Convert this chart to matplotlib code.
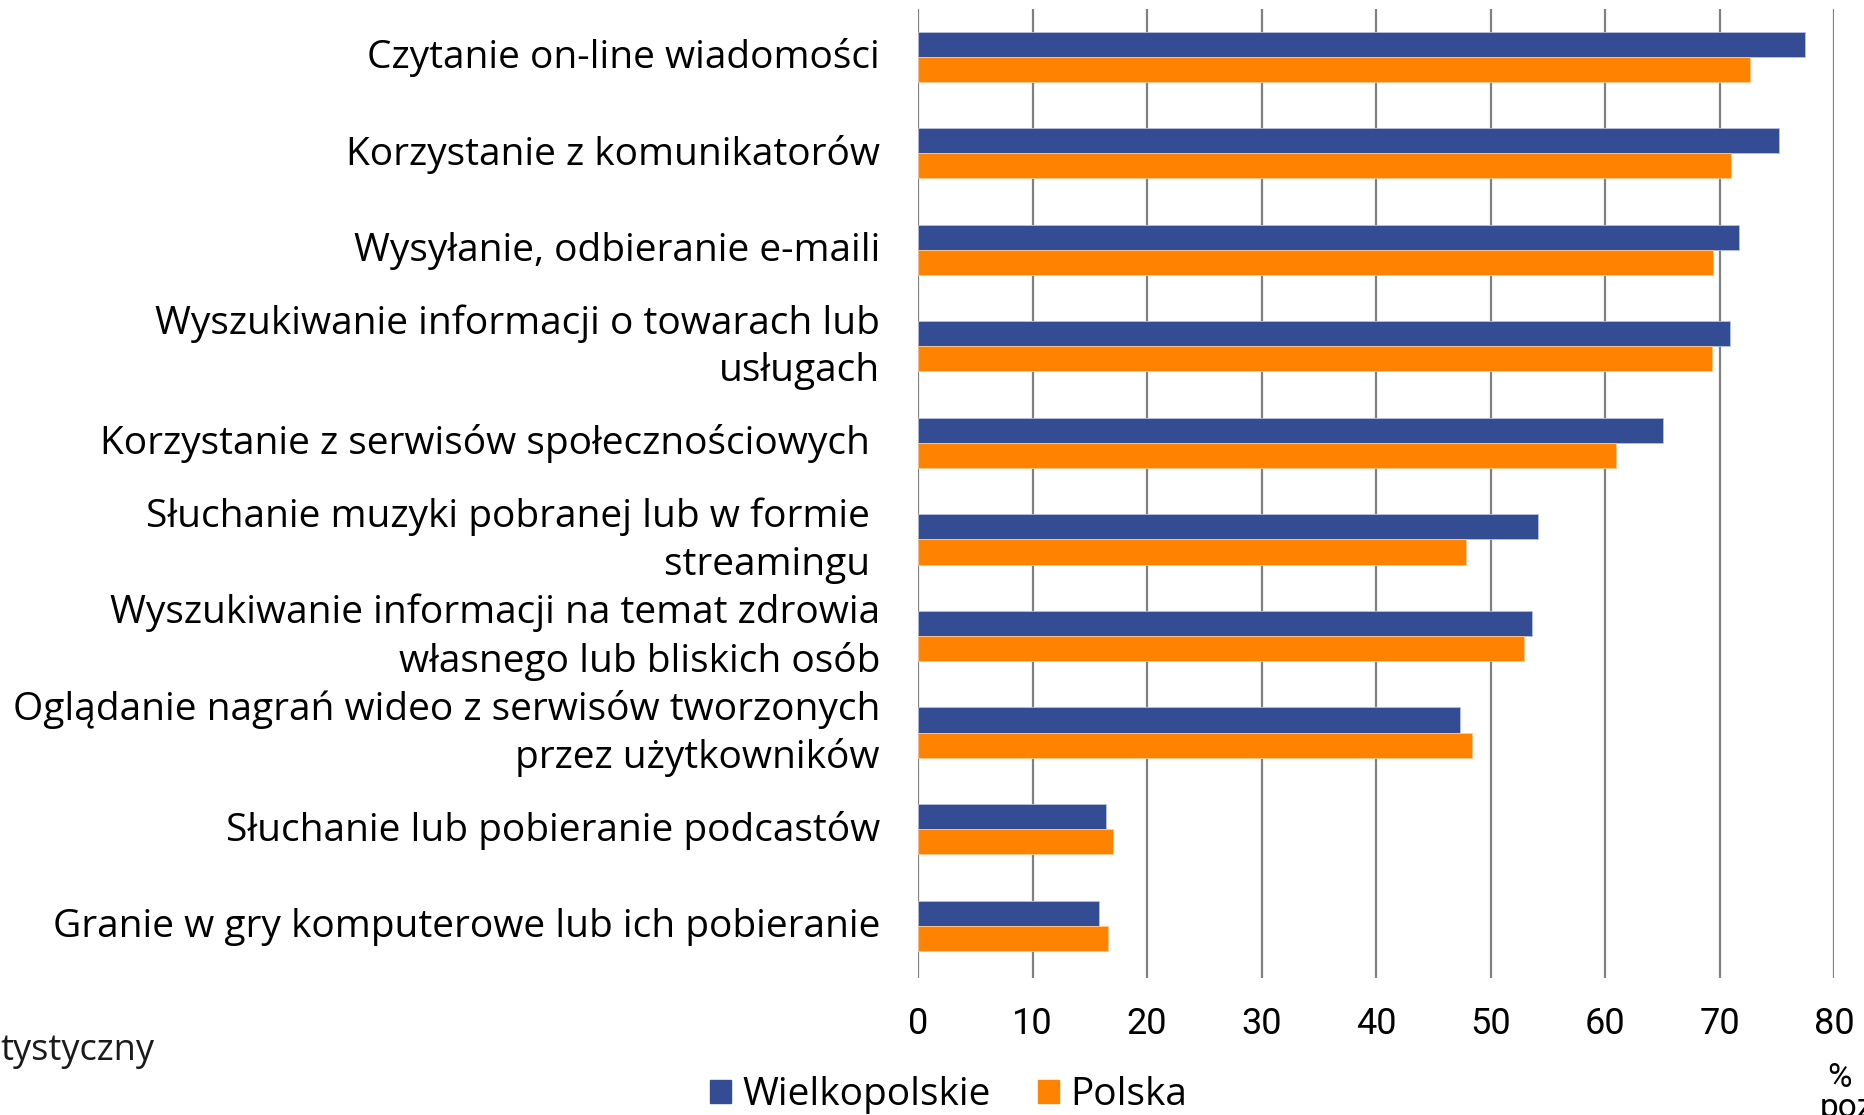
import matplotlib
matplotlib.use("Agg")
import matplotlib.pyplot as plt
from matplotlib.patches import Patch
from matplotlib.transforms import ScaledTranslation
import numpy as np

categories = [
    "Czytanie on-line wiadomości",
    "Korzystanie z komunikatorów",
    "Wysyłanie, odbieranie e-maili",
    "Wyszukiwanie informacji o towarach lub\nusługach",
    "Korzystanie z serwisów społecznościowych ",
    "Słuchanie muzyki pobranej lub w formie \nstreamingu ",
    "Wyszukiwanie informacji na temat zdrowia\nwłasnego lub bliskich osób",
    "Oglądanie nagrań wideo z serwisów tworzonych\nprzez użytkowników",
    "Słuchanie lub pobieranie podcastów",
    "Granie w gry komputerowe lub ich pobieranie",
]
wielkopolskie = [77.4, 75.2, 71.7, 70.9, 65.0, 54.1, 53.6, 47.3, 16.4, 15.8]
polska = [72.6, 71.0, 69.4, 69.3, 60.9, 47.8, 52.9, 48.4, 17.0, 16.6]
series_names = ["Wielkopolskie", "Polska"]
xticks = [0, 10, 20, 30, 40, 50, 60, 70, 80]

BLUE = "#344C94"
ORANGE = "#FF8200"
LABEL_FONT = ["Open Sans", "DejaVu Sans"]
TICK_FONT = ["Liberation Sans Narrow", "Roboto", "DejaVu Sans"]

fig = plt.figure(figsize=(18.65, 11.15), dpi=100)
ax = fig.add_axes([0.4922, 0.1231, 0.4914, 0.8684])

y = np.arange(len(categories))
h = 0.26
ax.barh(y - h / 2, wielkopolskie, height=h, color=BLUE, zorder=3,
        edgecolor="#b8c0dc", linewidth=0.6)
ax.barh(y + h / 2, polska, height=h, color=ORANGE, zorder=3,
        edgecolor="#ffc890", linewidth=0.6)

ax.set_xlim(0, 80)
ax.set_ylim(9.54, -0.49)
ax.set_xticks(xticks)
ax.set_xticklabels([str(t) for t in xticks], family=TICK_FONT, fontsize=26)
ax.set_yticks(y)
ax.set_yticklabels([])
ax.tick_params(axis="x", length=0, pad=20)
ax.tick_params(axis="y", length=0)
for s in ax.spines.values():
    s.set_visible(False)
ax.grid(axis="x", color="#808080", linewidth=1.6, zorder=0)
ax.set_axisbelow(True)

label_tr = ax.get_yaxis_transform() + ScaledTranslation(-38 / 100, -1 / 100, fig.dpi_scale_trans)
for yi, cat in zip(y, categories):
    ax.text(0, yi, cat, transform=label_tr, ha="right", va="center",
            family=LABEL_FONT, fontsize=28, linespacing=1.33)

fig.text(0.0, 1 - 1051 / 1115, "tystyczny", fontsize=26, family=LABEL_FONT,
         va="center", ha="left", color="#1a1a1a")
fig.text(1840 / 1865, 1 - 1078 / 1115, "%", fontsize=24, family=TICK_FONT,
         va="center", ha="center")
fig.text(1820 / 1865, 1 - 1108 / 1115, "poz", fontsize=24, family=TICK_FONT,
         va="center", ha="left")

handles = [Patch(color=BLUE), Patch(color=ORANGE)]
fig.legend(handles, series_names, loc="center", bbox_to_anchor=(0.5086, 0.0175),
           ncol=2, frameon=False, prop={"family": LABEL_FONT, "size": 28},
           handlelength=0.55, handleheight=0.55, handletextpad=0.3, columnspacing=1.2,
           borderpad=0)

fig.savefig("out.png", dpi=100, facecolor="white")
